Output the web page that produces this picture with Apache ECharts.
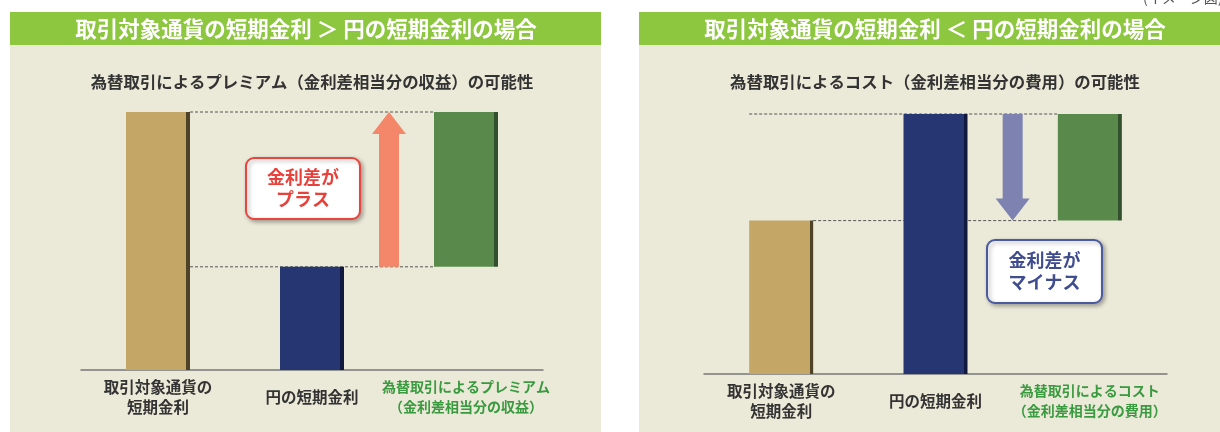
<!DOCTYPE html>
<html>
<head>
<meta charset="utf-8">
<script src="https://cdn.jsdelivr.net/npm/echarts@6/dist/echarts.min.js"></script>
<style>
html,body{margin:0;padding:0;background:#fff;}
#chart{width:1220px;height:432px;}
</style>
</head>
<body>
<div id="chart"></div>
<script>
// ---- data ----
const categoriesPlus = ['取引対象通貨の\n短期金利', '円の短期金利', '為替取引によるプレミアム\n（金利差相当分の収益）'];
const categoriesMinus = ['取引対象通貨の\n短期金利', '円の短期金利', '為替取引によるコスト\n（金利差相当分の費用）'];
const headerPlus = '取引対象通貨の短期金利 ＞ 円の短期金利の場合';
const headerMinus = '取引対象通貨の短期金利 ＜ 円の短期金利の場合';
const subtitlePlus = '為替取引によるプレミアム（金利差相当分の収益）の可能性';
const subtitleMinus = '為替取引によるコスト（金利差相当分の費用）の可能性';
const calloutPlus = ['金利差が', 'プラス'];
const calloutMinus = ['金利差が', 'マイナス'];
const noteText = '(イメージ図)';
// rates (illustrative levels): [foreign currency rate, yen rate]
const ratesPlus = [5.0, 2.0];
const ratesMinus = [2.95, 5.0];
// spread bar: [low, high]
const spreadPlus = [2.0, 5.0];
const spreadMinus = [2.95, 5.0];
// arrow: [from, to]
const arrowPlus = [2.0, 5.0];
const arrowMinus = [5.0, 2.95];

// ---- styles ----
const FONT = '"Noto Sans CJK JP", "Noto Sans", sans-serif';
const BG = '#EBE9D8';
const HEADER_GREEN = '#8DC63F';
const BAR_W = 64;
const HALF = BAR_W / 2;

function edgeGrad(base, edge) {
  return new echarts.graphic.LinearGradient(0, 0, 1, 0, [
    { offset: 0, color: base }, { offset: 0.945, color: base },
    { offset: 0.945, color: edge }, { offset: 1, color: edge }
  ]);
}
const TAN = edgeGrad('#C4A766', '#4F4327');
const NAVY = edgeGrad('#263673', '#111A3E');
const GREEN = edgeGrad('#5A8A4B', '#33502C');

function xAxisFor(grid, cats) {
  return {
    type: 'category', gridIndex: grid,
    data: cats.map((c, i) => i === 2 ? {
      value: c,
      textStyle: { color: '#3A9A40', fontSize: 14, fontWeight: 'bold', verticalAlign: 'middle', lineHeight: 20, fontFamily: FONT }
    } : c),
    axisLine: { lineStyle: { color: '#777', width: 1.5 } },
    axisTick: { show: false },
    axisLabel: {
      interval: 0, margin: 27, verticalAlign: 'middle', lineHeight: 20,
      fontSize: 15.5, fontWeight: 'bold', color: '#333', fontFamily: FONT
    }
  };
}
function yAxisFor(grid) {
  return { type: 'value', gridIndex: grid, min: 0, max: 5, show: false };
}

function barSeries(grid, rates, spread) {
  return [
    {
      type: 'bar', xAxisIndex: grid, yAxisIndex: grid, stack: 's' + grid, barWidth: BAR_W,
      silent: true, itemStyle: { color: 'transparent' }, z: 2,
      data: [0, 0, spread[0]]
    },
    {
      type: 'bar', xAxisIndex: grid, yAxisIndex: grid, stack: 's' + grid, barWidth: BAR_W, z: 2,
      data: [
        { value: rates[0], itemStyle: { color: TAN } },
        { value: rates[1], itemStyle: { color: NAVY } },
        { value: spread[1] - spread[0], itemStyle: { color: GREEN } }
      ]
    }
  ];
}

function connectorSeries(grid, items) {
  return {
    type: 'custom', xAxisIndex: grid, yAxisIndex: grid, z: 1, silent: true,
    data: items.map(it => [it.from[0], it.v, it.to[0]]),
    renderItem(params, api) {
      const it = items[params.dataIndex];
      const p1 = api.coord([it.from[0], it.v]);
      const p2 = api.coord([it.to[0], it.v]);
      const x1 = p1[0] + (it.from[1] === 'right' ? HALF : -HALF);
      const x2 = p2[0] + (it.to[1] === 'right' ? HALF : -HALF);
      return {
        type: 'line', shape: { x1: x1, y1: p1[1], x2: x2, y2: p1[1] },
        style: { stroke: '#555', lineWidth: 1, lineDash: [3, 2] }
      };
    }
  };
}

function arrowSeries(grid, arrow, color) {
  return {
    type: 'custom', xAxisIndex: grid, yAxisIndex: grid, z: 5, silent: true,
    data: [[1, arrow[0], arrow[1]]],
    renderItem(params, api) {
      const a = api.coord([1, api.value(1)]);
      const b = api.coord([2, api.value(1)]);
      const x = (a[0] + b[0]) / 2;
      const y0 = a[1];
      const y1 = api.coord([1, api.value(2)])[1];
      const dir = y1 < y0 ? -1 : 1;
      const head = 22, sw = 10, hw = 17;
      const yb = y1 - dir * head;
      return {
        type: 'polygon',
        shape: { points: [[x - sw, y0], [x + sw, y0], [x + sw, yb], [x + hw, yb], [x, y1], [x - hw, yb], [x - sw, yb]] },
        style: { fill: color }
      };
    }
  };
}

function panelGraphics(x, w, header, subtitle, hx, sx) {
  return [
    { type: 'rect', silent: true, z: -10, shape: { x: x, y: 12, width: w, height: 420 }, style: { fill: BG } },
    { type: 'rect', silent: true, z: -9, shape: { x: x, y: 12, width: w, height: 33 }, style: { fill: HEADER_GREEN } },
    { type: 'text', silent: true, z: 10, x: hx, y: 29,
      style: { text: header, fill: '#fff', font: 'bold 21.5px ' + FONT, align: 'center', verticalAlign: 'middle' } },
    { type: 'text', silent: true, z: 10, x: sx, y: 82,
      style: { text: subtitle, fill: '#333', font: 'bold 16.4px ' + FONT, align: 'center', verticalAlign: 'middle' } }
  ];
}

function callout(x, y, w, h, stroke, textColor, lines) {
  return [
    { type: 'rect', silent: true, z: 20,
      shape: { x: x, y: y, width: w, height: h, r: 8 },
      style: { fill: '#fff', stroke: stroke, lineWidth: 2, shadowBlur: 4, shadowOffsetX: 2, shadowOffsetY: 2, shadowColor: 'rgba(0,0,0,0.3)' } },
    { type: 'text', silent: true, z: 21, x: x + w / 2, y: y + h / 2,
      style: { text: lines.join('\n'), fill: textColor, font: 'bold 18px ' + FONT, lineHeight: 22, align: 'center', verticalAlign: 'middle' } }
  ];
}

const chart = echarts.init(document.getElementById('chart'), null, { renderer: 'canvas' });
chart.setOption({
  backgroundColor: '#ffffff',
  animation: false,
  grid: [
    { left: 81, width: 462, top: 112, height: 258 },
    { left: 704, width: 463, top: 114, height: 260 }
  ],
  xAxis: [xAxisFor(0, categoriesPlus), xAxisFor(1, categoriesMinus)],
  yAxis: [yAxisFor(0), yAxisFor(1)],
  graphic: [].concat(
    panelGraphics(10, 591, headerPlus, subtitlePlus, 306, 312),
    panelGraphics(639, 581, headerMinus, subtitleMinus, 935, 935),
    callout(246, 158, 114, 61, '#E8453C', '#E8403A', calloutPlus),
    callout(987, 240, 115, 63, '#4B5A9E', '#3F4C8E', calloutMinus),
    [{ type: 'text', silent: true, x: 1143, y: -9, style: { text: noteText, fill: '#555', font: '14px ' + FONT } }]
  ),
  series: [].concat(
    barSeries(0, ratesPlus, spreadPlus),
    barSeries(1, ratesMinus, spreadMinus),
    [
      connectorSeries(0, [
        { v: ratesPlus[0], from: [0, 'right'], to: [2, 'left'] },
        { v: ratesPlus[1], from: [0, 'right'], to: [2, 'left'] }
      ]),
      connectorSeries(1, [
        { v: ratesMinus[1], from: [0, 'left'], to: [2, 'left'] },
        { v: ratesMinus[0], from: [0, 'right'], to: [2, 'left'] }
      ]),
      arrowSeries(0, arrowPlus, '#F4876A'),
      arrowSeries(1, arrowMinus, '#7E82B0')
    ]
  )
});
</script>
</body>
</html>
